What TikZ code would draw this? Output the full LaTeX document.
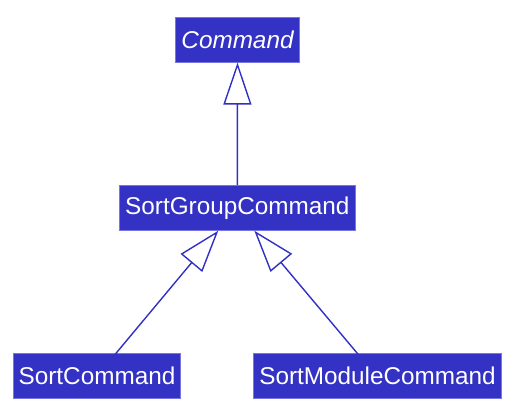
\documentclass[tikz,border=0pt]{standalone}
\usepackage{fontspec}
\setmainfont{Liberation Sans}
\usetikzlibrary{arrows.meta,calc}
\definecolor{boxfill}{RGB}{52,50,196}
\definecolor{boxline}{RGB}{120,118,225}
\definecolor{conn}{RGB}{50,48,196}
\begin{document}
\begin{tikzpicture}[x=1pt,y=-1pt,
  cls/.style={draw=boxline,line width=0.8pt,fill=boxfill,text=white,inner sep=0pt,
    minimum height=44.8pt,font=\fontsize{24.3}{28}\selectfont,anchor=center},
  inh/.style={draw=conn,line width=1.4pt,-{Triangle[open,length=42pt,width=28pt,fill=white]}}]
\useasboundingbox (0,0) rectangle (525,419);
\node[cls,minimum width=123.6pt] (cmd) at (237.5,39.8) {\itshape Command};
\node[cls,minimum width=236pt] (sgc) at (237.3,207.9) {SortGroupCommand};
\node[cls,minimum width=167.4pt] (sc) at (97,375.8) {SortCommand};
\node[cls,minimum width=248.4pt] (smc) at (377.5,375.8) {SortModuleCommand};
\draw[inh] (sgc.north) -- (cmd.south);
\draw[inh] ($(sc.north)+(18,1.5)$) -- ($(sgc.south)+(-19,0)$);
\draw[inh] ($(smc.north)+(-19.2,1.5)$) -- ($(sgc.south)+(17,0)$);
\end{tikzpicture}
\end{document}
